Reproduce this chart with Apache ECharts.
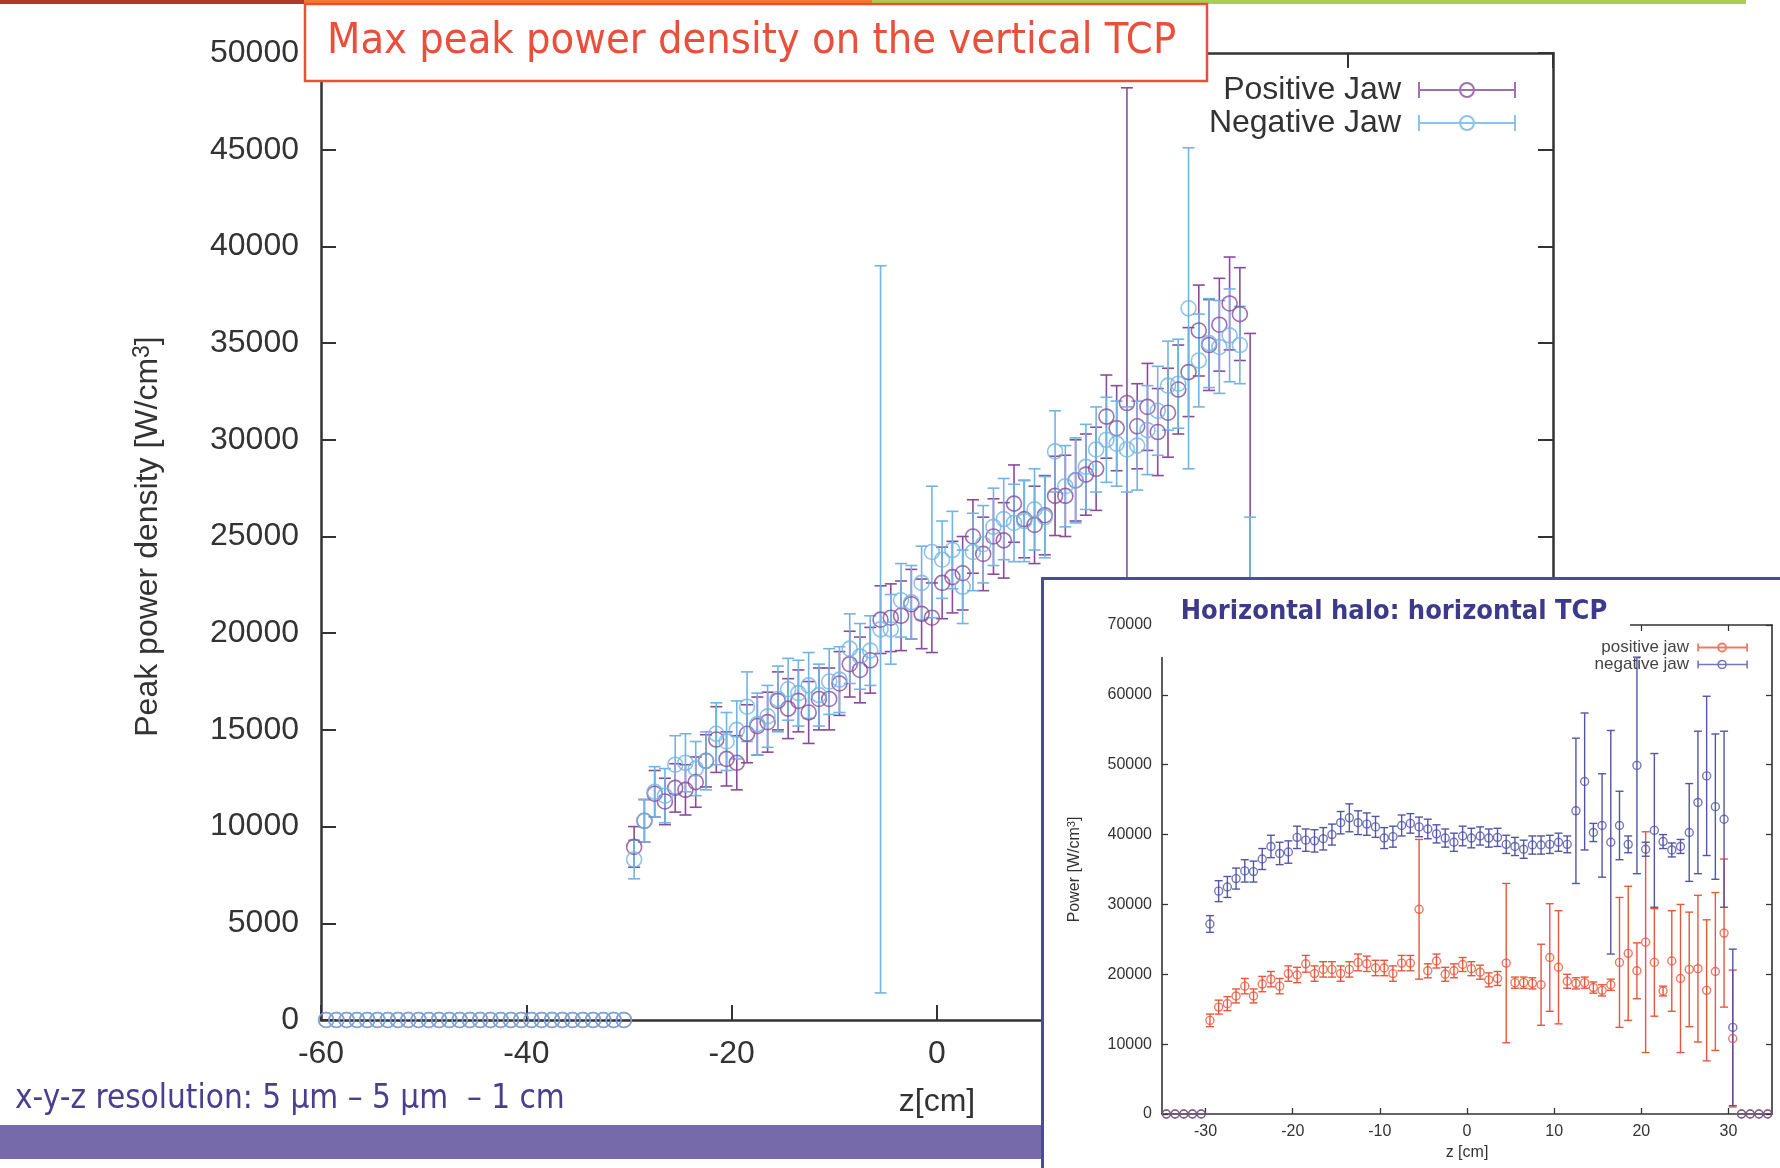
<!DOCTYPE html>
<html>
<head>
<meta charset="utf-8">
<script src="https://cdn.jsdelivr.net/npm/echarts@6.0.0/dist/echarts.min.js"></script>
<style>
  body { margin: 0; background: #fff; }
  #main { position: absolute; left: 0; top: 0; width: 1780px; height: 1168px; }
  #insetBox { position: absolute; left: 1041px; top: 577px; width: 739px; height: 591px; box-sizing: border-box;
    border-left: 3px solid #4a4a9e; border-top: 3px solid #4a4a9e; background: #fff; }
  #inset { position: absolute; left: 0; top: 0; width: 736px; height: 588px; }
</style>
</head>
<body>
<div id="main"></div>
<div id="insetBox"><div id="inset"></div></div>
<script>
// bin centres (1 cm resolution) shared by both plots
const zBins = [-29.5,-28.5,-27.5,-26.5,-25.5,-24.5,-23.5,-22.5,-21.5,-20.5,
  -19.5,-18.5,-17.5,-16.5,-15.5,-14.5,-13.5,-12.5,-11.5,-10.5,
  -9.5,-8.5,-7.5,-6.5,-5.5,-4.5,-3.5,-2.5,-1.5,-0.5,
  0.5,1.5,2.5,3.5,4.5,5.5,6.5,7.5,8.5,9.5,
  10.5,11.5,12.5,13.5,14.5,15.5,16.5,17.5,18.5,19.5,
  20.5,21.5,22.5,23.5,24.5,25.5,26.5,27.5,28.5,29.5,30.5]
const zeroBinsMain = [-59.5,-58.5,-57.5,-56.5,-55.5,-54.5,-53.5,-52.5,-51.5,-50.5,
  -49.5,-48.5,-47.5,-46.5,-45.5,-44.5,-43.5,-42.5,-41.5,-40.5,
  -39.5,-38.5,-37.5,-36.5,-35.5,-34.5,-33.5,-32.5,-31.5,-30.5]
const zeroBinsInset = [-34.5,-33.5,-32.5,-31.5,-30.5,31.5,32.5,33.5,34.5]

// vertical TCP (main plot)
const posJawMain = [8950,10300,11700,11300,12000,11900,12300,13400,14500,13500,
  13300,14800,15200,15400,16500,16100,16500,15900,16600,16600,
  17400,18400,18100,18600,20700,20800,20900,21500,21000,20800,
  22600,22900,23100,25000,24100,25000,24800,26700,25900,25600,
  26100,27100,27100,27900,28200,28500,31200,30600,31900,30700,
  31700,30400,31400,32600,33500,35650,34900,35950,37050,36500,0]
const posErrMain = [1050,1100,1200,1200,1250,1300,1300,1350,1700,1400,
  1400,1500,1500,1550,1500,1550,1600,1600,1600,1600,
  1650,1700,1700,1700,1750,1750,1800,1800,1800,1800,
  1850,1850,1900,1900,1900,1950,1950,2000,2000,2000,
  2050,2050,2100,2100,2100,2150,2150,2200,16300,2200,
  2250,2250,2300,2300,2300,2350,2350,2400,2400,2400,35500]
const negJawMain = [8300,10300,11800,11600,13200,13300,13000,13400,14800,14400,
  15000,16200,15300,15700,16600,17100,16900,17300,16800,17500,
  17600,19200,18800,19100,20200,20200,21700,21600,22600,24200,
  23800,24300,22400,24200,24600,25500,25900,25700,25800,26400,
  26000,29400,27600,27900,28600,29500,30000,29800,29500,29700,
  30500,31500,32800,32900,36800,34100,35000,34800,35400,34900,0]
const negErrMain = [1000,1100,1300,1400,1500,1500,1400,1500,1600,1500,
  1500,1800,1600,1600,1700,1600,1700,1700,1600,1700,
  1700,1800,1700,1800,18800,1800,1900,1900,1900,3400,
  2000,2000,1900,2000,2000,2000,2100,2000,2100,2100,
  2100,2100,2100,2200,2200,2200,2200,2200,2200,2300,
  2300,2300,2300,2300,8300,2400,2300,2400,2400,2000,26000]

// horizontal TCP (inset)
const posJawInset = [13400,15300,15800,16900,18300,16900,18600,19300,18300,20100,
  19900,21500,20100,20700,20700,20100,20700,21700,21500,20900,
  20900,20100,21600,21600,29300,20500,21900,20000,20500,21400,
  20800,20300,19200,19400,21600,18800,18800,18700,18500,22400,
  21000,19000,18700,18800,18100,17700,18500,21700,23000,20500,
  24600,21700,17600,21900,19400,20700,20800,17700,20400,25900,10800]
const posErrInset = [900,1000,1000,1000,1100,1000,1100,1100,1100,1100,
  1100,1200,1100,1100,1100,1100,1100,1200,1100,1100,
  1100,1100,1100,1100,10000,1000,1000,1000,1000,1000,
  1000,1000,1000,1000,11400,800,800,800,5800,7700,
  8100,1000,800,800,800,800,800,9300,9600,4000,
  15800,7700,700,7200,10600,8200,10500,10100,11300,10600,9800]
const negJawInset = [27200,31900,32500,33700,34800,34700,36500,38300,37300,37500,
  39600,39200,39100,39400,40000,41700,42400,41700,41500,41100,
  39500,39700,41300,41600,41100,40800,40100,39500,38900,39800,
  39500,39800,39500,39600,38600,38300,37900,38500,38500,38600,
  38900,38600,43400,47600,40300,41300,38900,41300,38600,49900,
  37900,40600,39000,37800,38300,40300,44600,48400,44000,42200,12400]
const negErrInset = [1200,1500,1500,1500,1600,1500,1500,1600,1600,1600,
  1600,1600,1600,1600,1500,1600,2000,1700,1600,1500,
  1500,1500,1500,1400,1400,1400,1300,1300,1300,1400,
  1400,1300,1300,1300,1300,1300,1300,1300,1300,1300,
  1300,1200,10400,9800,1300,7400,16000,4900,1200,15500,
  1000,11000,1000,1000,1000,7000,10200,11400,10400,12600,11200]

const insetTicks = [-30,-20,-10,0,10,20,30]

const PURPLE = '#8a4b9b'
const LIGHTBLUE = '#72b4e4'
const RED = '#e8573c'
const NAVY = '#5355a8'
const HELV = '"Liberation Sans", Arial, sans-serif'
const NARROW = '"Liberation Sans Narrow", "DejaVu Sans Condensed", sans-serif'

const plain = v => String(v)

function errorBars(capHalf, width) {
  return function (params, api) {
    const hi = api.coord([api.value(0), api.value(2)])
    const lo = api.coord([api.value(0), api.value(1)])
    const style = { stroke: api.visual('color'), lineWidth: width, fill: null }
    return {
      type: 'group',
      children: [
        { type: 'line', shape: { x1: hi[0], y1: hi[1], x2: lo[0], y2: lo[1] }, style },
        { type: 'line', shape: { x1: hi[0] - capHalf, y1: hi[1], x2: hi[0] + capHalf, y2: hi[1] }, style },
        { type: 'line', shape: { x1: lo[0] - capHalf, y1: lo[1], x2: lo[0] + capHalf, y2: lo[1] }, style }
      ]
    }
  }
}

function barData(vals, errs) {
  return zBins.map((z, i) => [z, vals[i] - errs[i], vals[i] + errs[i]])
}
function pointData(vals, zeros) {
  return zeros.map(z => [z, 0]).concat(zBins.map((z, i) => [z, vals[i]]))
}

function axisCommon(width, tickLen) {
  return {
    axisLine: { onZero: false, lineStyle: { color: '#333', width: width } },
    axisTick: { inside: true, length: tickLen, lineStyle: { color: '#333', width: width * 0.8 } },
    splitLine: { show: false }
  }
}

// ---------------- main chart ----------------
const main = echarts.init(document.getElementById('main'))
const mainAxis = axisCommon(2.5, 15)
main.setOption({
  animation: false,
  grid: { left: 321, top: 53, width: 1232, height: 967 },
  legend: {
    right: 259, top: 69, orient: 'vertical', align: 'right', itemGap: 1,
    itemWidth: 96, itemHeight: 16, selectedMode: false,
    textStyle: { fontFamily: HELV, fontSize: 32, color: '#333', lineHeight: 32, padding: [0, 13, 0, 0] },
    data: [
      { name: 'Positive Jaw', icon: 'path://M0,8L96,8M0,0L0,16M96,0L96,16M55,8A7,7,0,1,1,41,8A7,7,0,1,1,55,8',
        itemStyle: { color: 'rgba(0,0,0,0)', borderColor: PURPLE, borderWidth: 2 } },
      { name: 'Negative Jaw', icon: 'path://M0,8L96,8M0,0L0,16M96,0L96,16M55,8A7,7,0,1,1,41,8A7,7,0,1,1,55,8',
        itemStyle: { color: 'rgba(0,0,0,0)', borderColor: LIGHTBLUE, borderWidth: 2 } }
    ]
  },
  xAxis: [
    Object.assign({}, mainAxis, {
      type: 'value', min: -60, max: 60, interval: 20,
      axisLabel: { fontFamily: HELV, fontSize: 32, color: '#333', margin: 18, formatter: plain },
      name: 'z[cm]', nameLocation: 'middle', nameGap: 66,
      nameTextStyle: { fontFamily: HELV, fontSize: 32, color: '#333' }
    }),
    Object.assign({}, mainAxis, {
      type: 'value', position: 'top', min: -60, max: 60, interval: 20, axisLabel: { show: false }
    })
  ],
  yAxis: [
    Object.assign({}, mainAxis, {
      type: 'value', min: 0, max: 50000, interval: 5000,
      axisLabel: { fontFamily: HELV, fontSize: 32, color: '#333', margin: 22, formatter: plain },
      name: '{a|Peak power density [W/cm}{s|3}{a|]}', nameLocation: 'middle', nameGap: 155,
      nameTextStyle: {
        rich: {
          a: { fontFamily: HELV, fontSize: 32, color: '#333' },
          s: { fontFamily: HELV, fontSize: 23, color: '#333', verticalAlign: 'top', padding: [0, 0, 12, 0] }
        }
      }
    }),
    Object.assign({}, mainAxis, {
      type: 'value', position: 'right', min: 0, max: 50000, interval: 5000, axisLabel: { show: false }
    })
  ],
  series: [
    { type: 'custom', name: 'posBars', clip: true, renderItem: errorBars(6, 1.6),
      itemStyle: { color: PURPLE }, data: barData(posJawMain, posErrMain), silent: true },
    { type: 'scatter', name: 'Positive Jaw', symbol: 'circle', symbolSize: 15, silent: true,
      itemStyle: { color: 'rgba(0,0,0,0)', borderColor: PURPLE, borderWidth: 1.6 },
      data: pointData(posJawMain, zeroBinsMain) },
    { type: 'custom', name: 'negBars', clip: true, renderItem: errorBars(6, 1.6),
      itemStyle: { color: LIGHTBLUE }, data: barData(negJawMain, negErrMain), silent: true },
    { type: 'scatter', name: 'Negative Jaw', symbol: 'circle', symbolSize: 15, silent: true,
      itemStyle: { color: 'rgba(0,0,0,0)', borderColor: LIGHTBLUE, borderWidth: 1.6 },
      data: pointData(negJawMain, zeroBinsMain) }
  ],
  graphic: [
    // slide decorations
    { type: 'rect', z: 100, shape: { x: 0, y: 0, width: 304, height: 4 }, style: { fill: '#b0372e' } },
    { type: 'rect', z: 100, shape: { x: 304, y: 0, width: 568, height: 5 }, style: { fill: '#ef7b30' } },
    { type: 'rect', z: 100, shape: { x: 872, y: 0, width: 874, height: 4 }, style: { fill: '#a8cf50' } },
    { type: 'rect', z: 100, shape: { x: 0, y: 1125, width: 1041, height: 34 }, style: { fill: '#766aab' } },
    { type: 'text', z: 100, left: 15, top: 1083,
      style: { text: 'x-y-z resolution: 5 µm – 5 µm  – 1 cm', font: '33px ' + NARROW, fill: '#4b3e92' } },
    // title box
    { type: 'rect', z: 100, shape: { x: 305, y: 4, width: 902, height: 77 },
      style: { fill: '#fff', stroke: '#e8503a', lineWidth: 2.5 } },
    { type: 'text', z: 101, left: 327, top: 20,
      style: { text: 'Max peak power density on the vertical TCP', font: '43px ' + NARROW, fill: '#e9503c' } }
  ]
})

// ---------------- inset chart ----------------
const inset = echarts.init(document.getElementById('inset'))
const insAxis = axisCommon(1.6, 6)
inset.setOption({
  animation: false,
  grid: { left: 118, top: 45, width: 610, height: 489 },
  legend: {
    right: 27, top: 54, orient: 'vertical', align: 'right', itemGap: 0, z: 10,
    itemWidth: 49, itemHeight: 8, selectedMode: false,
    textStyle: { fontFamily: HELV, fontSize: 17, color: '#444', lineHeight: 16, padding: [0, 4, 0, 0] },
    data: [
      { name: 'positive jaw', icon: 'path://M0,4L49,4M0,0L0,8M49,0L49,8M28,4A4,4,0,1,1,20,4A4,4,0,1,1,28,4',
        itemStyle: { color: 'rgba(0,0,0,0)', borderColor: RED, borderWidth: 1.8 } },
      { name: 'negative jaw', icon: 'path://M0,4L49,4M0,0L0,8M49,0L49,8M28,4A4,4,0,1,1,20,4A4,4,0,1,1,28,4',
        itemStyle: { color: 'rgba(0,0,0,0)', borderColor: NAVY, borderWidth: 1.6 } }
    ]
  },
  xAxis: [
    Object.assign({}, insAxis, {
      type: 'value', min: -35, max: 35,
      axisTick: Object.assign({}, insAxis.axisTick, { customValues: insetTicks }),
      axisLabel: { customValues: insetTicks, fontFamily: HELV, fontSize: 16, color: '#333', margin: 10 },
      name: 'z [cm]', nameLocation: 'middle', nameGap: 30,
      nameTextStyle: { fontFamily: HELV, fontSize: 16, color: '#333' }
    }),
    Object.assign({}, insAxis, {
      type: 'value', position: 'top', min: -35, max: 35,
      axisTick: Object.assign({}, insAxis.axisTick, { customValues: insetTicks }),
      axisLabel: { show: false }
    })
  ],
  yAxis: [
    Object.assign({}, insAxis, {
      type: 'value', min: 0, max: 70000, interval: 10000,
      axisLabel: { fontFamily: HELV, fontSize: 16, color: '#333', margin: 10, formatter: plain },
      name: '{a|Power [W/cm}{s|3}{a|]}', nameLocation: 'middle', nameGap: 79,
      nameTextStyle: {
        rich: {
          a: { fontFamily: HELV, fontSize: 16, color: '#333' },
          s: { fontFamily: HELV, fontSize: 11, color: '#333', verticalAlign: 'top', padding: [0, 0, 6, 0] }
        }
      }
    }),
    Object.assign({}, insAxis, {
      type: 'value', position: 'right', min: 0, max: 70000, interval: 10000, axisLabel: { show: false }
    })
  ],
  series: [
    { type: 'custom', name: 'posBarsInset', clip: true, renderItem: errorBars(4, 1.4),
      itemStyle: { color: RED }, data: barData(posJawInset, posErrInset), silent: true },
    { type: 'scatter', name: 'positive jaw', symbol: 'circle', symbolSize: 8, silent: true,
      itemStyle: { color: 'rgba(0,0,0,0)', borderColor: RED, borderWidth: 1.4 },
      data: pointData(posJawInset, zeroBinsInset) },
    { type: 'custom', name: 'negBarsInset', clip: true, renderItem: errorBars(4, 1.4),
      itemStyle: { color: NAVY }, data: barData(negJawInset, negErrInset), silent: true },
    { type: 'scatter', name: 'negative jaw', symbol: 'circle', symbolSize: 8, silent: true,
      itemStyle: { color: 'rgba(0,0,0,0)', borderColor: NAVY, borderWidth: 1.4 },
      data: pointData(negJawInset, zeroBinsInset) }
  ],
  graphic: [
    // title pasted over the top-left corner of the frame (legend stays above it)
    { type: 'rect', z: 3, shape: { x: 114, y: 8, width: 472, height: 69 }, style: { fill: '#fff' } },
    { type: 'text', z: 101, x: 350, y: 18,
      style: { text: 'Horizontal halo: horizontal TCP', font: 'bold 27px ' + NARROW, fill: '#3e3a8b', textAlign: 'center' } }
  ]
})
</script>
</body>
</html>
